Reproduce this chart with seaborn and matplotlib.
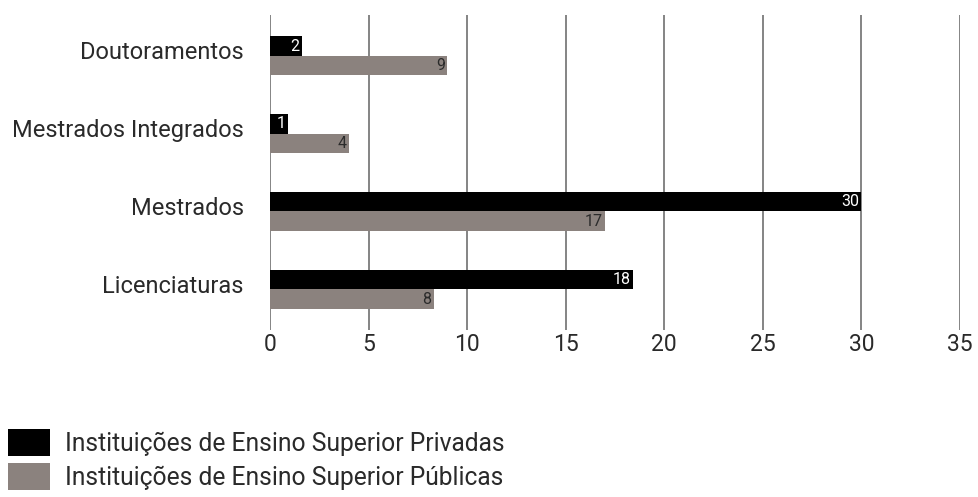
import matplotlib
matplotlib.use("Agg")
import matplotlib.pyplot as plt
from matplotlib.patches import Patch
from matplotlib.transforms import ScaledTranslation
import seaborn as sns
import pandas as pd

# Degree types and the two institution groups
categories = ["Doutoramentos", "Mestrados Integrados", "Mestrados", "Licenciaturas"]
series_names = ["Instituições de Ensino Superior Privadas",
                "Instituições de Ensino Superior Públicas"]
privadas = [1.6, 0.9, 30.0, 18.4]
publicas = [9.0, 4.0, 17.0, 8.3]
x_ticks = [0, 5, 10, 15, 20, 25, 30, 35]

colors = ["#000000", "#8b827e"]
label_colors = ["#ffffff", "#2b2b2b"]
text_color = "#2a2a2a"

df = pd.DataFrame({
    "categoria": categories * 2,
    "valor": privadas + publicas,
    "grupo": [series_names[0]] * len(categories) + [series_names[1]] * len(categories),
})

sns.set_theme(style="white")
plt.rcParams["font.family"] = ["Roboto", "DejaVu Sans"]
plt.rcParams["font.weight"] = "normal"

fig = plt.figure(figsize=(9.79, 4.97), dpi=100)
ax = fig.add_axes([0.2758, 0.336, 0.7048, 0.6338])

sns.barplot(data=df, y="categoria", x="valor", hue="grupo",
            order=categories, hue_order=series_names,
            palette=colors, orient="h", width=0.49, saturation=1,
            linewidth=0, legend=False, ax=ax, zorder=3)

# Value labels inside the end of each bar
values = [privadas, publicas]
for k, container in enumerate(ax.containers):
    for patch, v in zip(container.patches, values[k]):
        y = patch.get_y() + patch.get_height() / 2
        ax.annotate(f"{v:.0f}", (patch.get_width(), y), xytext=(-1.5, 0),
                    textcoords="offset points", ha="right", va="center",
                    fontsize=11.5, color=label_colors[k], zorder=4)

ax.set_xlim(0, 35)
ax.set_ylim(3.52, -0.52)
ax.set_xticks(x_ticks)
ax.set_xticklabels([str(t) for t in x_ticks])
ax.xaxis.grid(True, color="#6f6f6f", linewidth=1.2)
ax.set_axisbelow(True)
for s in ax.spines.values():
    s.set_visible(False)
ax.set_xlabel("")
ax.set_ylabel("")
ax.tick_params(axis="x", length=0, pad=2, labelsize=16.5, labelcolor=text_color)
ax.tick_params(axis="y", length=0, pad=19, labelsize=17, labelcolor=text_color)

# Category names sit a little above the middle of each bar pair
lift = ScaledTranslation(0, 4 / 72, fig.dpi_scale_trans)
for lbl in ax.get_yticklabels():
    lbl.set_transform(lbl.get_transform() + lift)

handles = [Patch(facecolor=c, edgecolor="none") for c in colors]
fig.legend(handles, series_names, loc="upper left", bbox_to_anchor=(0.008, 0.137),
           frameon=False, fontsize=17.7, handlelength=1.72, handleheight=1.3,
           handletextpad=0.62, labelspacing=0.3, borderaxespad=0, borderpad=0,
           labelcolor=text_color)

fig.savefig("out.png", dpi=100)
